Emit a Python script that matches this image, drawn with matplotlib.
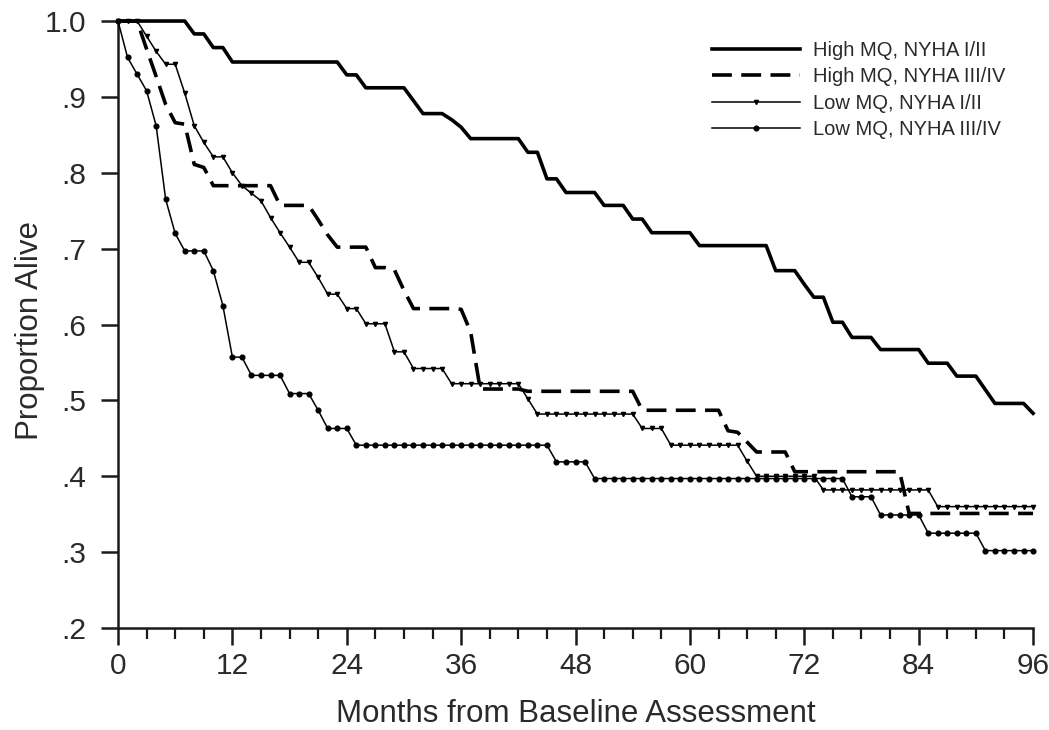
import matplotlib
matplotlib.use("Agg")
import matplotlib.pyplot as plt
from matplotlib.ticker import FixedLocator

plt.rcParams["font.family"] = ["Liberation Sans", "DejaVu Sans"]

# monthly survival estimates, months 0..96
months = list(range(97))

high_mq_nyha12 = [
    1.0, 1.0, 1.0, 1.0, 1.0, 1.0, 1.0, 1.0, .983, .983, .965, .965,
    .946, .946, .946, .946, .946, .946, .946, .946, .946, .946, .946, .946,
    .929, .929, .912, .912, .912, .912, .912, .895, .878, .878, .878, .870,
    .860, .845, .845, .845, .845, .845, .845, .827, .827, .792, .792, .774,
    .774, .774, .774, .757, .757, .757, .739, .739, .721, .721, .721, .721,
    .721, .704, .704, .704, .704, .704, .704, .704, .704, .671, .671, .671,
    .653, .636, .636, .603, .603, .583, .583, .583, .567, .567, .567, .567,
    .567, .549, .549, .549, .532, .532, .532, .514, .496, .496, .496, .496,
    .483,
]

high_mq_nyha34 = [
    1.0, 1.0, 1.0, .963, .927, .890, .866, .864, .811, .807, .783, .783,
    .783, .783, .783, .783, .783, .757, .757, .757, .757, .738, .718, .702,
    .702, .702, .702, .675, .675, .672, .645, .621, .621, .621, .621, .621,
    .620, .590, .515, .515, .515, .515, .515, .512, .512, .512, .512, .512,
    .512, .512, .512, .512, .512, .512, .512, .487, .487, .487, .487, .487,
    .487, .487, .487, .487, .460, .458, .445, .432, .432, .432, .432, .406,
    .406, .406, .406, .406, .406, .406, .406, .406, .406, .406, .406, .351,
    .351, .351, .351, .351, .351, .351, .351, .351, .351, .351, .351, .351,
    .351,
]

low_mq_nyha12 = [
    1.0, 1.0, 1.0, .980, .960, .943, .943, .905, .862, .840, .821, .821,
    .800, .783, .773, .763, .741, .721, .702, .682, .682, .662, .640, .640,
    .621, .621, .601, .601, .601, .564, .564, .542, .542, .542, .542, .522,
    .522, .522, .522, .522, .522, .522, .522, .502, .482, .482, .482, .482,
    .482, .482, .482, .482, .482, .482, .482, .463, .463, .463, .441, .441,
    .441, .441, .441, .441, .441, .441, .420, .400, .400, .400, .400, .400,
    .400, .400, .382, .382, .382, .382, .382, .382, .382, .382, .382, .382,
    .382, .382, .360, .360, .360, .360, .360, .360, .360, .360, .360, .360,
    .360,
]

low_mq_nyha34 = [
    1.0, .952, .930, .908, .862, .765, .720, .697, .697, .697, .671, .625,
    .557, .557, .533, .533, .533, .533, .509, .509, .509, .487, .463, .463,
    .463, .441, .441, .441, .441, .441, .441, .441, .441, .441, .441, .441,
    .441, .441, .441, .441, .441, .441, .441, .441, .441, .441, .419, .419,
    .419, .419, .397, .397, .397, .397, .397, .397, .397, .397, .397, .397,
    .397, .397, .397, .397, .397, .397, .397, .397, .397, .397, .397, .397,
    .397, .397, .397, .397, .397, .373, .373, .373, .349, .349, .349, .349,
    .349, .325, .325, .325, .325, .325, .325, .302, .302, .302, .302, .302,
    .302,
]

labels = ["High MQ, NYHA I/II", "High MQ, NYHA III/IV",
          "Low MQ, NYHA I/II", "Low MQ, NYHA III/IV"]

x_ticks = [0, 12, 24, 36, 48, 60, 72, 84, 96]
y_ticks = [.2, .3, .4, .5, .6, .7, .8, .9, 1.0]
y_tick_labels = [".2", ".3", ".4", ".5", ".6", ".7", ".8", ".9", "1.0"]

txt = "#2a2a2a"

fig = plt.figure(figsize=(10.49, 7.30), dpi=100)
ax = fig.add_axes([0.1125, 0.1397, 0.8723, 0.8315])

ax.plot(months, high_mq_nyha12, color="black", lw=2.6, label=labels[0],
        clip_on=False, zorder=4)
ax.plot(months, high_mq_nyha34, color="black", lw=2.6, dashes=(5.5, 2.6),
        label=labels[1], clip_on=False, zorder=4)
ax.plot(months, low_mq_nyha12, color="black", lw=1.1, marker="v", ms=3.0,
        label=labels[2], clip_on=False, zorder=3)
ax.plot(months, low_mq_nyha34, color="black", lw=1.1, marker="o", ms=3.4,
        label=labels[3], clip_on=False, zorder=3)

ax.set_xlim(0, 96)
ax.set_ylim(0.2, 1.0)
ax.set_xticks(x_ticks)
ax.xaxis.set_minor_locator(FixedLocator(list(range(0, 97, 3))))
ax.set_yticks(y_ticks)
ax.set_yticklabels(y_tick_labels)

for s in ["top", "right"]:
    ax.spines[s].set_visible(False)
for s in ["left", "bottom"]:
    ax.spines[s].set_linewidth(1.8)
    ax.spines[s].set_color("#1a1a1a")

ax.tick_params(axis="both", which="major", length=12, width=1.8,
               direction="out", labelsize=21.5, labelcolor=txt, color="#1a1a1a")
ax.tick_params(axis="x", which="minor", length=8, width=1.6, color="#1a1a1a")
ax.tick_params(axis="x", which="major", pad=5)
ax.tick_params(axis="y", which="major", pad=11)

ax.set_xlabel("Months from Baseline Assessment", fontsize=22.5, color=txt,
              labelpad=14)
ax.set_ylabel("Proportion Alive", fontsize=22.5, color=txt)
ax.yaxis.set_label_coords(-0.08, 0.49)

leg = ax.legend(loc="upper left", bbox_to_anchor=(0.649, 0.967), frameon=False,
                fontsize=14.5, handlelength=4.4, handletextpad=0.6,
                labelspacing=0.36, borderpad=0, borderaxespad=0, numpoints=1)
for t in leg.get_texts():
    t.set_color(txt)

fig.savefig("out.png", dpi=100, facecolor="white")
